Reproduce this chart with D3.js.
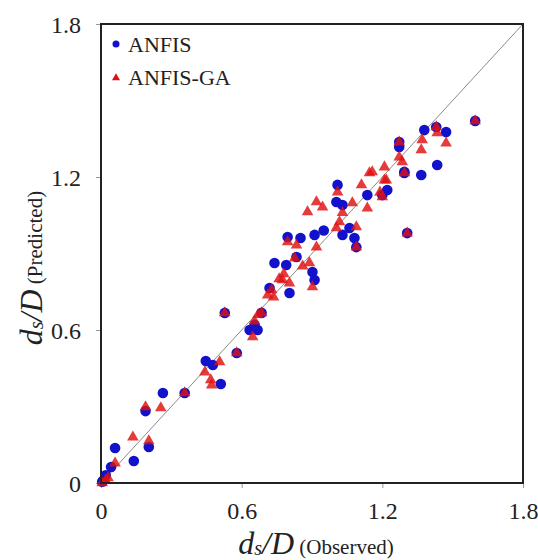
<!DOCTYPE html>
<html><head><meta charset="utf-8">
<script src="https://cdn.jsdelivr.net/npm/d3@7"></script>
<style>body{margin:0;background:#fff}svg{display:block}svg text{font-family:'Liberation Serif','Times New Roman',serif !important}</style>
</head><body><div id="chart"></div>
<script>
const ticks = [0, 0.6, 1.2, 1.8];
const tickLabels = ["0", "0.6", "1.2", "1.8"];
const seriesNames = ["ANFIS", "ANFIS-GA"];
// [observed, predicted]
const anfis = [[0.005,0.005],[0.01,0.01],[0.02,0.03],[0.043,0.063],[0.06,0.137],[0.14,0.086],[0.19,0.282],[0.204,0.141],[0.264,0.353],[0.357,0.353],[0.447,0.478],[0.477,0.463],[0.511,0.388],[0.579,0.51],[0.528,0.667],[0.634,0.6],[0.668,0.6],[0.655,0.62],[0.685,0.667],[0.719,0.765],[0.74,0.863],[0.79,0.855],[0.804,0.745],[0.834,0.886],[0.796,0.965],[0.911,0.973],[0.911,0.796],[0.902,0.827],[0.851,0.961],[1.009,1.169],[1.004,1.102],[1.03,1.09],[1.03,0.973],[1.081,0.961],[1.089,0.925],[1.136,1.129],[1.2,1.129],[1.221,1.149],[1.294,1.216],[1.306,0.98],[1.379,1.384],[1.43,1.396],[1.472,1.376],[1.434,1.247],[1.366,1.208],[1.272,1.337],[1.272,1.318],[1.294,1.22],[1.596,1.42],[1.06,1.0],[0.95,0.99]];
const anfisGA = [[0.005,0.0],[0.02,0.01],[0.03,0.02],[0.06,0.078],[0.136,0.18],[0.19,0.298],[0.204,0.165],[0.255,0.294],[0.357,0.353],[0.443,0.435],[0.468,0.404],[0.472,0.384],[0.506,0.475],[0.579,0.51],[0.528,0.667],[0.647,0.573],[0.655,0.635],[0.685,0.667],[0.67,0.66],[0.711,0.737],[0.728,0.757],[0.736,0.729],[0.774,0.796],[0.804,0.784],[0.796,0.945],[0.834,0.933],[0.826,0.882],[0.919,0.925],[0.889,0.863],[0.902,0.769],[0.86,0.85],[1.009,1.141],[0.919,1.102],[0.881,1.063],[0.945,1.082],[1.072,1.098],[1.017,1.024],[1.004,1.0],[1.03,1.06],[1.089,1.004],[1.089,0.925],[1.136,1.078],[1.111,1.169],[1.145,1.216],[1.19,1.14],[1.217,1.188],[1.294,1.216],[1.306,0.98],[1.596,1.42],[1.43,1.396],[1.434,1.373],[1.472,1.333],[1.37,1.345],[1.366,1.306],[1.272,1.337],[1.285,1.259],[1.272,1.278],[1.209,1.239],[1.209,1.188],[1.157,1.22],[1.2,1.122],[0.78,0.82],[0.76,0.8]];

const W = 538, H = 560;
const m = {left: 101, right: 15, top: 24, bottom: 77};
const svg = d3.select("#chart").append("svg").attr("width", W).attr("height", H);

const x = d3.scaleLinear().domain([0, 1.8]).range([m.left, W - m.right]);
const y = d3.scaleLinear().domain([0, 1.8]).range([H - m.bottom, m.top]);

const blue = "#1212cc", red = "#e01010";

// diagonal
svg.append("line").attr("x1", x(0)).attr("y1", y(0)).attr("x2", x(1.8)).attr("y2", y(1.8))
  .attr("stroke", "#8a8a8a").attr("stroke-width", 1);

// axes
const xAxis = d3.axisBottom(x).tickValues(ticks).tickFormat((d,i)=>tickLabels[i]).tickSize(5).tickPadding(14);
const yAxis = d3.axisLeft(y).tickValues(ticks).tickFormat((d,i)=>tickLabels[i]).tickSize(5).tickPadding(15);
const gx = svg.append("g").attr("transform", `translate(0,${y(0)})`).call(xAxis);
const gy = svg.append("g").attr("transform", `translate(${x(0)},0)`).call(yAxis);
[gx, gy].forEach(g => {
  g.attr("font-family", null);
  g.select(".domain").remove();
  g.selectAll(".tick line").attr("stroke", "#999");
  g.selectAll(".tick text").attr("font-size", 24).attr("fill", "#222");
});
gy.selectAll(".tick text").attr("dy", "0.35em");

// points
svg.append("g").selectAll("circle").data(anfis).join("circle")
  .attr("cx", d => x(d[0])).attr("cy", d => y(d[1])).attr("r", 5.3).attr("fill", blue);
const tri = d3.symbol().type(d3.symbolTriangle).size(58);
svg.append("g").selectAll("path").data(anfisGA).join("path")
  .attr("d", tri).attr("transform", d => `translate(${x(d[0])},${y(d[1])})`)
  .attr("fill", red).attr("fill-opacity", 0.82);

// frame
svg.append("rect").attr("x", x(0)).attr("y", y(1.8)).attr("width", x(1.8) - x(0)).attr("height", y(0) - y(1.8))
  .attr("fill", "none").attr("stroke", "#222").attr("stroke-width", 2);

// legend
const lg = svg.append("g");
lg.append("circle").attr("cx", 116).attr("cy", 44).attr("r", 3.5).attr("fill", blue);
lg.append("text").attr("x", 128).attr("y", 52).attr("font-size", 22).attr("fill", "#222").text(seriesNames[0]);
lg.append("path").attr("d", d3.symbol().type(d3.symbolTriangle).size(28)).attr("transform", "translate(116,78)").attr("fill", red);
lg.append("text").attr("x", 128).attr("y", 85).attr("font-size", 22).attr("fill", "#222").text(seriesNames[1]);

// x title
const xt = svg.append("text").attr("x", 316).attr("y", 554).attr("text-anchor", "middle").attr("fill", "#222");
xt.append("tspan").attr("font-style", "italic").attr("font-size", 32).text("d");
xt.append("tspan").attr("font-style", "italic").attr("font-size", 20).attr("dy", 1).text("s");
xt.append("tspan").attr("font-style", "italic").attr("font-size", 32).attr("dy", -1).text("/D");
xt.append("tspan").attr("font-size", 21).text(" (Observed)");

// y title
const yt = svg.append("text").attr("transform", `translate(42,${268}) rotate(-90)`).attr("text-anchor", "middle").attr("fill", "#222");
yt.append("tspan").attr("font-style", "italic").attr("font-size", 32).text("d");
yt.append("tspan").attr("font-style", "italic").attr("font-size", 20).attr("dy", 1).text("s");
yt.append("tspan").attr("font-style", "italic").attr("font-size", 32).attr("dy", -1).text("/D");
yt.append("tspan").attr("font-size", 21).text(" (Predicted)");
</script></body></html>
